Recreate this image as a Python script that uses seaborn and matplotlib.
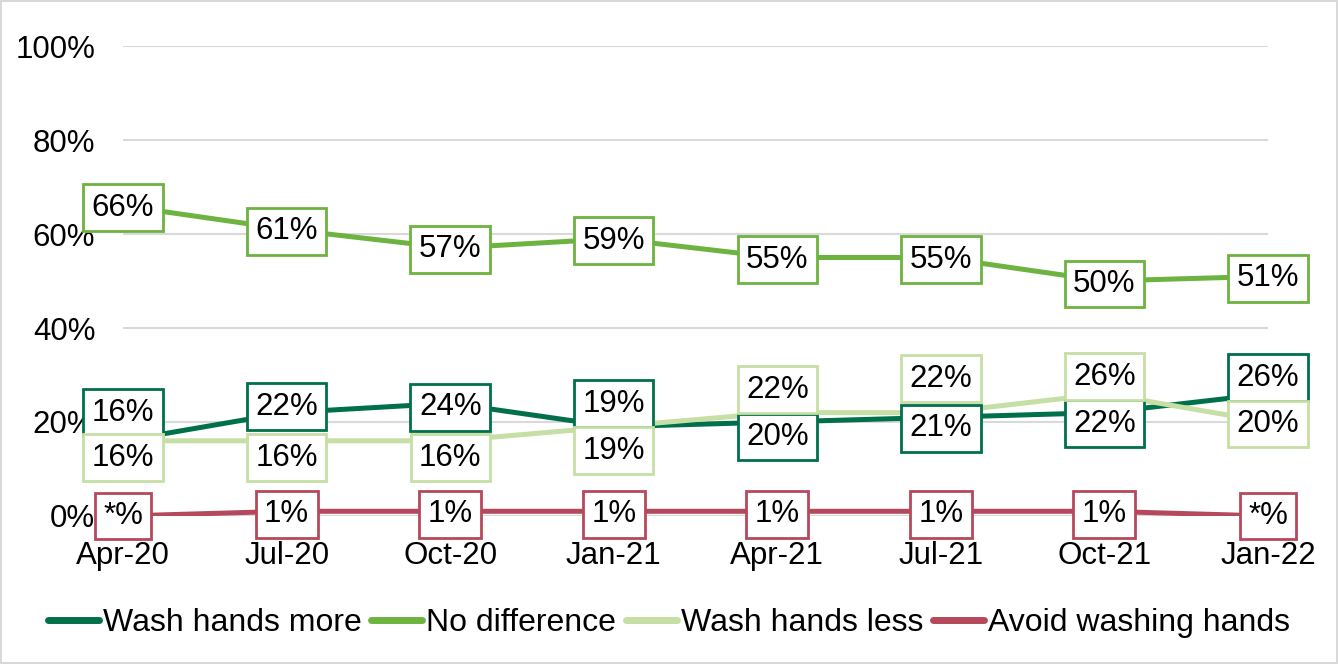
import numpy as np
import pandas as pd
import matplotlib
matplotlib.use("Agg")
import matplotlib.pyplot as plt
import seaborn as sns

# donnees
periods = ["Apr-20", "Jul-20", "Oct-20", "Jan-21", "Apr-21", "Jul-21", "Oct-21", "Jan-22"]
wash_more = [16, 22, 24, 19, 20, 21, 22, 26]
no_difference = [66, 61, 57, 59, 55, 55, 50, 51]
wash_less = [16, 16, 16, 19, 22, 22, 26, 20]
avoid_washing = [0, 1, 1, 1, 1, 1, 1, 0]
avoid_labels = ["*%", "1%", "1%", "1%", "1%", "1%", "1%", "*%"]

series_names = ["Wash hands more", "No difference", "Wash hands less", "Avoid washing hands"]
colors = ["#00704A", "#6DB33F", "#C5DFA5", "#B5495B"]

df = pd.DataFrame({
    "Period": periods * 4,
    "x": list(range(len(periods))) * 4,
    "Value": wash_more + no_difference + wash_less + avoid_washing,
    "Series": [s for s in series_names for _ in periods],
})

sns.set_style("white")
plt.rcParams["font.family"] = ["Liberation Sans", "DejaVu Sans"]
plt.rcParams["text.color"] = "black"
plt.rcParams["xtick.color"] = "black"
plt.rcParams["ytick.color"] = "black"

FS = 22.5

fig = plt.figure(figsize=(13.38, 6.64), dpi=100)
fig.patch.set_edgecolor("#D9D9D9")
fig.patch.set_linewidth(1.5)
ax = fig.add_axes([0.092, 0.2229, 0.8557, 0.7078])

sns.lineplot(data=df, x="x", y="Value", hue="Series", hue_order=series_names,
             palette=colors, linewidth=3.6, ax=ax, legend=False)

ax.set_xlim(0, len(periods) - 1)
ax.set_ylim(0, 100)
ax.set_yticks(np.arange(0, 101, 20))
ax.set_yticklabels([f"{v}%" for v in range(0, 101, 20)])
ax.set_xticks(range(len(periods)))
ax.set_xticklabels(periods)
ax.tick_params(axis="y", length=0, pad=20, labelsize=FS)
ax.tick_params(axis="x", length=0, pad=18, labelsize=FS)
ax.grid(axis="y", color="#D9D9D9", linewidth=1.5)
ax.set_axisbelow(True)
for sp in ax.spines.values():
    sp.set_visible(False)
ax.set_xlabel("")
ax.set_ylabel("")

# decalages des etiquettes (pixels, positif = vers le haut)
offsets = {
    "Wash hands more": [28, 6, -4, 23, -15, -11, -11, 16],
    "No difference": [-2, -2, -1, -2, -2, -2, -3, -2],
    "Wash hands less": [-17, -17, -17, -24, 23, 34, 17, -2],
    "Avoid washing hands": [0, -3, -3, -3, -3, -3, -3, 0],
}
all_values = [wash_more, no_difference, wash_less, avoid_washing]
for name, vals, col in zip(series_names, all_values, colors):
    for i, v in enumerate(vals):
        txt = avoid_labels[i] if name == "Avoid washing hands" else f"{v}%"
        ax.annotate(txt, (i, v), xytext=(0, offsets[name][i] * 0.72),
                    textcoords="offset points", ha="center", va="center",
                    fontsize=FS, zorder=10, annotation_clip=False,
                    bbox=dict(boxstyle="square,pad=0.27", fc="white", ec=col, lw=2))

handles = [plt.Line2D([], [], color=c, linewidth=5, solid_capstyle="round") for c in colors]
fig.legend(handles, series_names, loc="center", bbox_to_anchor=(0.5, 0.061),
           ncol=4, frameon=False, fontsize=23, handlelength=1.6,
           handletextpad=0.13, columnspacing=0.3)

fig.savefig("out.png", dpi=100, edgecolor=fig.get_edgecolor())
